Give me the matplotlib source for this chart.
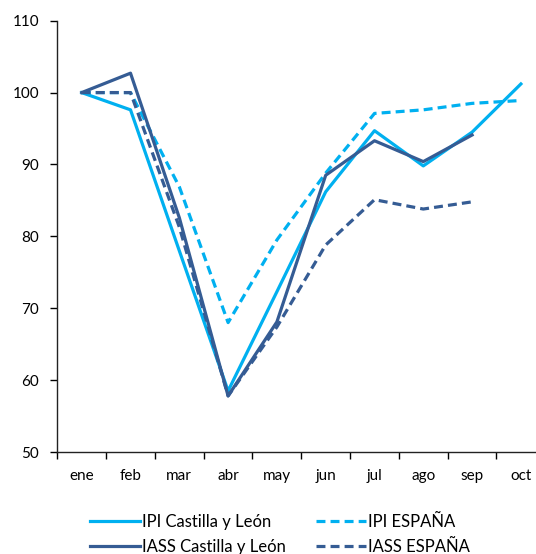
import numpy as np
import matplotlib
matplotlib.use("Agg")
import matplotlib.pyplot as plt

# DATA
months = ["ene", "feb", "mar", "abr", "may", "jun", "jul", "ago", "sep", "oct"]
ipi_cyl = [100, 97.6, 78.0, 58.5, 72.3, 86.2, 94.7, 89.8, 94.5, 101.2]
ipi_esp = [100, 100, 86.9, 68.0, 79.5, 88.8, 97.1, 97.6, 98.5, 98.9]
iass_cyl = [100, 102.7, 82.6, 57.8, 68.1, 88.5, 93.3, 90.4, 94.1]
iass_esp = [100, 100, 81.3, 57.8, 67.4, 78.8, 85.1, 83.8, 84.8]

light = "#00B0F0"
dark = "#355C94"

plt.rcParams["font.family"] = ["Lato", "DejaVu Sans"]
plt.rcParams["font.size"] = 11

fig = plt.figure(figsize=(5.36, 5.54), dpi=100)
ax = fig.add_axes([57.3 / 536, 102 / 554, 488 / 536, 431.3 / 554])

x = np.arange(len(months))
dash = (2.8, 1.6)
ax.plot(x, ipi_cyl, color=light, lw=2.3, label="IPI Castilla y León")
ax.plot(x, ipi_esp, color=light, lw=2.3, dashes=dash, label="IPI ESPAÑA")
ax.plot(x[:len(iass_cyl)], iass_cyl, color=dark, lw=2.3, label="IASS Castilla y León")
ax.plot(x[:len(iass_esp)], iass_esp, color=dark, lw=2.3, dashes=dash, label="IASS ESPAÑA")

# AXES
ax.set_xlim(-0.5, 9.5)
ax.set_ylim(50, 110)
ax.set_yticks(range(50, 111, 10))
ax.set_xticks(x)
ax.set_xticklabels(months)
ax.set_xticks(np.arange(-0.5, 9.6, 1), minor=True)
ax.tick_params(axis="x", which="major", length=0, pad=12)
ax.tick_params(axis="x", which="minor", length=5, width=1, direction="out")
ax.tick_params(axis="y", length=5, width=1, direction="out", pad=8)
for s in ["top", "right"]:
    ax.spines[s].set_visible(False)
for s in ["left", "bottom"]:
    ax.spines[s].set_linewidth(1)
    ax.spines[s].set_color("#222222")

# LEGEND (order: row by row)
h, l = ax.get_legend_handles_labels()
order = [0, 2, 1, 3]
fig.legend([h[i] for i in order], [l[i] for i in order], ncol=2, frameon=False,
           loc="upper left", bbox_to_anchor=(90 / 536, 1 - 514 / 554),
           borderaxespad=0, borderpad=0, handlelength=3.0, handletextpad=0.12,
           columnspacing=1.8, labelspacing=0.55, fontsize=12)

fig.savefig("out.png", dpi=100)
